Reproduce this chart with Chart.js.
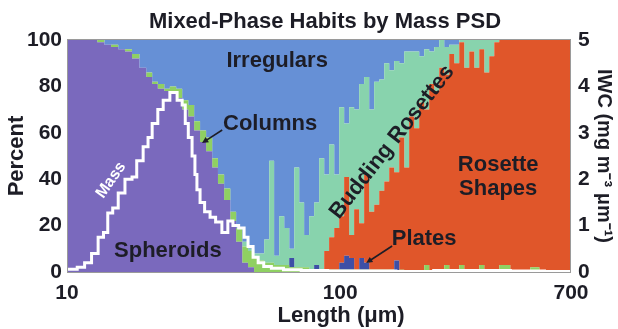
<!DOCTYPE html>
<html><head><meta charset="utf-8">
<script src="https://cdn.jsdelivr.net/npm/chart.js@4/dist/chart.umd.min.js"></script>
<style>html,body{margin:0;padding:0;background:#fff;}#wrap{width:618px;height:329px;}</style>
</head><body><div id="wrap"><canvas id="c" width="618" height="329"></canvas></div>
<script>
// ---- data ----
// left edges of the size bins (µm); last value closes the final bin
const lengthBins = [
 10.0,12.9,13.7,14.5,15.4,16.3,17.3,18.4,19.5,20.5,
 21.5,22.7,23.8,25.1,26.4,27.8,29.2,30.7,32.3,34.0,
 35.7,37.6,39.6,41.6,43.8,46.0,48.4,50.5,52.7,55.0,
 57.3,59.8,62.4,65.1,67.9,70.8,73.8,77.0,80.3,83.8,
 87.4,91.1,95.1,99.2,103.4,107.9,112.5,117.4,122.4,127.7,
 133.2,139.0,145.0,151.2,157.7,164.5,171.6,178.9,186.7,194.7,
 203.1,211.8,221.0,230.5,240.4,250.8,261.6,272.9,284.6,296.9,
 309.7,323.0,336.9,351.4,366.6,382.4,419.5,496.6,536.0,700
];
// habit percentages per bin (stacked bottom -> top)
const spheroids = [
 100,99,98,97,96,95,92,88,84,81,
 79,78,77,75,70,67,61,56,52,45,
 38,31,22,13,4,2,0,0,0,0,
 0,0,0,0,0,0,0,0,0,0,
 0,0,0,0,0,0,0,0,0,0,
 0,0,0,0,0,0,0,0,0,0,
 0,0,0,0,0,0,0,0,0,0,
 0,0,0,0,0,0,0,0,0,0
];
const columns = [
 0,1,0,1,0,1,2,0,2,1,
 2,1,3,4,4,5,4,5,6,4,
 4,5,4,6,7,7,6,5,4,4,
 3,3,3,2,2,2,2,1,1,1,
 1,1,1,1,1,1,1,1,1,1,
 1,1,1,1,0,1,0,0,0,0,
 3,0,0,0,3,0,0,3,0,0,
 0,3,0,0,0,3,0,2,0,0
];
const plates = [
 0,0,0,0,0,0,0,0,0,0,
 0,0,0,0,0,0,0,0,0,0,
 0,0,0,0,0,0,0,0,0,0,
 0,0,0,4,0,0,0,0,2,0,
 0,0,0,3,6,5,0,5,3,0,
 0,0,0,0,5,0,0,0,0,0,
 0,0,0,0,0,0,0,0,0,0,
 0,0,0,0,0,0,0,0,0,0
];
const rosetteShapes = [
 0,0,0,0,0,0,0,0,0,0,
 0,0,0,0,0,0,0,0,0,0,
 0,0,0,0,0,0,0,0,0,0,
 0,0,0,0,0,0,0,0,0,0,
 8,14,18,20,34,10,26,15,38,25,
 28,34,38,44,38,57,45,67,62,73,
 67,81,78,88,82,94,90,96,88,95,
 88,93,86,93,99,97,100,98,100,100
];
const buddingRosettes = [
 0,0,0,0,0,0,0,0,0,0,
 0,0,0,0,0,0,0,0,0,0,
 0,0,0,0,2,1,2,3,10,44,
 4,21,16,4,43,28,14,23,27,48,
 33,40,23,47,23,55,43,60,42,44,
 53,48,51,42,48,32,50,28,33,20,
 26,14,19,12,12,4,8,1,12,5,
 12,4,14,7,1,0,0,0,0,0
];
const irregulars = [
 0,0,2,2,4,4,6,12,14,18,
 19,21,20,21,26,28,35,39,42,51,
 58,64,74,81,87,90,92,92,86,52,
 93,76,81,90,55,70,84,76,70,51,
 58,45,58,29,36,29,30,19,16,30,
 18,17,10,13,9,10,5,5,5,7,
 4,5,3,0,3,2,2,0,0,0,
 0,0,0,0,0,0,0,0,0,0
];
// mass PSD (IWC, mg m^-3 µm^-1), left edges of steps
const massLength = [
 10.0,10.9,11.6,12.3,13.0,13.6,14.1,14.7,15.4,16.3,
 17.3,18.0,19.0,19.8,20.5,21.5,22.5,23.8,25.3,26.4,
 27.1,27.8,28.7,29.4,29.9,30.7,31.9,33.4,35.0,36.9,
 38.8,40.5,42.5,44.5,46.0,48.0,50.1,52.5,56.0,62.0,
 72.0,90.0,120,160,220,300,420,560,700
];
const massIWC = [
 0.06,0.10,0.20,0.40,0.75,0.85,1.27,1.38,1.70,2.00,
 2.05,2.40,2.70,2.90,3.20,3.50,3.70,3.87,3.70,3.60,
 3.20,2.90,2.50,2.10,1.77,1.50,1.30,1.18,1.08,0.85,
 1.10,1.00,0.95,0.75,0.55,0.32,0.20,0.12,0.08,0.05,
 0.03,0.02,0.02,0.01,0.03,0.03,0.02,0.01,0.01
];
const xTickValues = [10, 100, 700];
const xTickLabels = ['10', '100', '700'];
const percentTicks = [0, 20, 40, 60, 80, 100];
const iwcTicks = [0, 1, 2, 3, 4, 5];

// ---- styles ----
const FONT = "'Liberation Sans', Arial, Helvetica, sans-serif";
const TXT = '#1d1d26';
const habitColors = {
  spheroids: '#7a69bd', columns: '#8fd062', plates: '#3d4fa6',
  rosetteShapes: '#e0562a', buddingRosettes: '#88d3ad', irregulars: '#6690d6'
};

// annotation placement in data coordinates
const habitLabels = [
  {text:'Irregulars', len:58.8, val:91, size:22, rot:0, color:TXT},
  {text:'Columns', len:55.4, val:63.8, size:22, rot:0, color:TXT},
  {text:'Spheroids', len:23.4, val:9, size:22, rot:0, color:TXT},
  {text:'Budding Rosettes', len:155, val:56, size:22, rot:-52, color:TXT},
  {text:'Rosette\nShapes', len:379, val:41, size:22, rot:0, color:TXT},
  {text:'Plates', len:203, val:14.2, size:22, rot:0, color:TXT},
  {text:'Mass', len:14.5, val:1.98, axis:'y2', size:16, rot:-55, color:'#ffffff'}
];
const habitArrows = [
  {from:[37.0, 61.2], to:[31.2, 55.6]},
  {from:[155, 11.2], to:[124.5, 3.9]}
];

function pts(xs, arr){ return xs.map((x,i)=>({x:x, y:arr[i]})); }
function habitSet(label, arr, color, fill){
  return {label, data: pts(lengthBins, arr), stepped: true, fill: fill,
    backgroundColor: color, borderColor: color, borderWidth: 0, pointRadius: 0,
    stack: 'habits', yAxisID: 'y', order: 1};
}

const textPlugin = {
  id: 'texts',
  afterDatasetsDraw(chart){
    const {ctx, chartArea:a, scales} = chart;
    const x = scales.x;
    ctx.save();
    ctx.strokeStyle = '#9a9a9a'; ctx.lineWidth = 1;
    ctx.strokeRect(a.left+0.5, a.top-0.5, a.right-a.left-1, a.bottom-a.top+1);
    for (const L of habitLabels){
      const sc = L.axis === 'y2' ? scales.y2 : scales.y;
      const px = x.getPixelForValue(L.len), py = sc.getPixelForValue(L.val);
      ctx.save(); ctx.translate(px, py); ctx.rotate(L.rot*Math.PI/180);
      ctx.font = `bold ${L.size}px ${FONT}`; ctx.fillStyle = L.color;
      ctx.textAlign = 'center'; ctx.textBaseline = 'middle';
      const lines = L.text.split('\n');
      lines.forEach((t,i)=>ctx.fillText(t, 0, (i-(lines.length-1)/2)*L.size*1.1));
      ctx.restore();
    }
    ctx.strokeStyle = TXT; ctx.fillStyle = TXT; ctx.lineWidth = 1.6;
    for (const A of habitArrows){
      const x1 = x.getPixelForValue(A.from[0]), y1 = scales.y.getPixelForValue(A.from[1]);
      const x2 = x.getPixelForValue(A.to[0]), y2 = scales.y.getPixelForValue(A.to[1]);
      const ang = Math.atan2(y2-y1, x2-x1);
      ctx.beginPath(); ctx.moveTo(x1,y1); ctx.lineTo(x2-5*Math.cos(ang), y2-5*Math.sin(ang)); ctx.stroke();
      ctx.beginPath(); ctx.moveTo(x2,y2);
      ctx.lineTo(x2-7*Math.cos(ang-0.45), y2-7*Math.sin(ang-0.45));
      ctx.lineTo(x2-7*Math.cos(ang+0.45), y2-7*Math.sin(ang+0.45));
      ctx.closePath(); ctx.fill();
    }
    ctx.restore();
  },
  afterDraw(chart){
    const {ctx, chartArea:a} = chart;
    ctx.save();
    ctx.fillStyle = TXT; ctx.textAlign = 'center'; ctx.textBaseline = 'middle';
    ctx.font = `bold 22px ${FONT}`;
    ctx.fillText('Mixed-Phase Habits by Mass PSD', (a.left+a.right)/2 + 6, 22);
    ctx.font = `bold 22px ${FONT}`;
    ctx.fillText('Length (\u03bcm)', (a.left+a.right)/2 + 22, 316);
    ctx.restore();
  }
};

new Chart(document.getElementById('c'), {
  type: 'line',
  data: {
    datasets: [
      habitSet('Spheroids', spheroids, habitColors.spheroids, 'origin'),
      habitSet('Columns', columns, habitColors.columns, '-1'),
      habitSet('Plates', plates, habitColors.plates, '-1'),
      habitSet('Rosette Shapes', rosetteShapes, habitColors.rosetteShapes, '-1'),
      habitSet('Budding Rosettes', buddingRosettes, habitColors.buddingRosettes, '-1'),
      habitSet('Irregulars', irregulars, habitColors.irregulars, '-1'),
      {label:'Mass', data: pts(massLength, massIWC), stepped: true, fill: false,
        borderColor: '#ffffff', borderWidth: 3, pointRadius: 0, yAxisID: 'y2',
        stack: 'mass', order: 0}
    ]
  },
  options: {
    responsive: false, animation: false, devicePixelRatio: 1,
    layout: {padding: {top: 40, left: 0, right: 0, bottom: 0}},
    plugins: {legend: {display: false}, tooltip: {enabled: false}, title: {display: false}},
    scales: {
      x: {
        type: 'logarithmic', min: 10, max: 700, position: 'bottom',
        grid: {display: false, drawTicks: false}, border: {display: false},
        afterBuildTicks: (s)=>{ s.ticks = xTickValues.map(v=>({value:v})); },
        afterFit: (s)=>{ s.height = 57; },
        ticks: {autoSkip: false, maxRotation: 0, padding: 9, color: TXT,
          font: {family: FONT, size: 21, weight: 'bold'},
          callback: (v)=>{ const i = xTickValues.indexOf(v); return i >= 0 ? xTickLabels[i] : ''; }}
      },
      y: {
        stacked: true, min: 0, max: 100, position: 'left',
        grid: {display: false, drawTicks: false}, border: {display: false},
        afterBuildTicks: (s)=>{ s.ticks = percentTicks.map(v=>({value:v})); },
        afterFit: (s)=>{ s.width = 67; },
        ticks: {padding: 5, color: TXT, font: {family: FONT, size: 21, weight: 'bold'}},
        title: {display: true, text: 'Percent', color: TXT, padding: {top: 4, bottom: 0},
          font: {family: FONT, size: 22, weight: 'bold'}}
      },
      y2: {
        min: 0, max: 5, position: 'right',
        grid: {display: false, drawTicks: false}, border: {display: false},
        afterBuildTicks: (s)=>{ s.ticks = iwcTicks.map(v=>({value:v})); },
        afterFit: (s)=>{ s.width = 47; },
        ticks: {padding: 7, color: TXT, font: {family: FONT, size: 21, weight: 'bold'}},
        title: {display: true, text: 'IWC (mg m\u207b\u00b3 \u03bcm\u207b\u00b9)', color: TXT,
          padding: {top: 2, bottom: 0}, font: {family: FONT, size: 20, weight: 'bold'}}
      }
    }
  },
  plugins: [textPlugin]
});
</script>
</body></html>
